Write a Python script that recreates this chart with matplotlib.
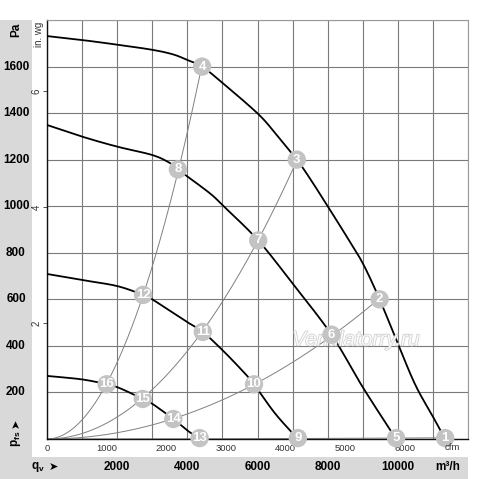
import matplotlib
matplotlib.use("Agg")
import matplotlib.pyplot as plt
import numpy as np
from matplotlib.patches import Rectangle
import matplotlib.patheffects as pe
import matplotlib.transforms as mtransforms

plt.rcParams['font.family'] = ['Liberation Sans', 'DejaVu Sans']
plt.rcParams['mathtext.fontset'] = 'custom'
plt.rcParams['mathtext.rm'] = 'Liberation Sans'
plt.rcParams['mathtext.bf'] = 'Liberation Sans:bold'
plt.rcParams['mathtext.it'] = 'Liberation Sans:italic'

# ---------------- data ----------------
# fan curves: airflow (m3/h) and static pressure (Pa)
fan1_q = [0, 1000, 2000, 3000, 3600, 4000, 4420, 5000, 6000, 6500, 7120, 7500, 8000, 8500, 9000, 9480, 10000, 10500, 11000, 11350]
fan1_p = [1731, 1714, 1694, 1672, 1652, 1628, 1600, 1530, 1399, 1315, 1200, 1118, 1000, 880, 755, 600, 410, 232, 96, 0]
fan2_q = [0, 1000, 2000, 3000, 3500, 3730, 4000, 4647, 5000, 6020, 7000, 8110, 8990, 9950]
fan2_p = [1349, 1299, 1256, 1220, 1186, 1158, 1128, 1055, 1005, 853, 668, 448, 225, 0]
fan3_q = [0, 1000, 2000, 2740, 3000, 3980, 4440, 5000, 5596, 5900, 6500, 7150]
fan3_p = [709, 683, 657, 619, 600, 504, 460, 382, 289, 235, 110, 0]
fan4_q = [0, 1000, 1700, 2081, 2730, 3013, 3600, 3980, 4350]
fan4_p = [271, 256, 235, 218, 172, 150, 86, 39, 0]

# operating points (numbered circles)
pt_num = [1, 2, 3, 4, 5, 6, 7, 8, 9, 10, 11, 12, 13, 14, 15, 16]
pt_q = [11350, 9480, 7120, 4420, 9950, 8110, 6020, 3730, 7150, 5900, 4440, 2740, 4350, 3600, 2730, 1700]
pt_p = [4, 600, 1200, 1600, 4, 448, 853, 1158, 4, 235, 460, 619, 4, 86, 172, 235]

# system curves: which operating points lie on each
sys_lines = [[16, 12, 8, 4], [15, 11, 7, 3], [14, 10, 6, 2], [13, 9, 5, 1]]

pa_ticks = [200, 400, 600, 800, 1000, 1200, 1400, 1600]
m3h_labels = [2000, 4000, 6000, 8000, 10000]
cfm_ticks = [0, 1000, 2000, 3000, 4000, 5000, 6000]
inwg_ticks = [2, 4, 6]


def smooth(xs, ys, n=16):
    """Catmull-Rom rendering through the given points."""
    P = np.column_stack([xs, ys]).astype(float)
    P = np.vstack([2 * P[0] - P[1], P, 2 * P[-1] - P[-2]])
    out = []
    t = np.linspace(0, 1, n, endpoint=False)[:, None]
    for i in range(1, len(P) - 2):
        p0, p1, p2, p3 = P[i - 1], P[i], P[i + 1], P[i + 2]
        seg = 0.5 * ((2 * p1) + (-p0 + p2) * t + (2 * p0 - 5 * p1 + 4 * p2 - p3) * t ** 2
                     + (-p0 + 3 * p1 - 3 * p2 + p3) * t ** 3)
        out.append(seg)
    out.append(P[-2][None, :])
    out = np.vstack(out)
    return out[:, 0], out[:, 1]


# ---------------- figure ----------------
W, H = 500, 479
fig = plt.figure(figsize=(W / 100, H / 100), dpi=100)


def fx(x):
    return x / W


def fy(y):
    return 1 - y / H


gray_band = '#d9d9d9'
fig.add_artist(Rectangle((0, 0), fx(32), 1 - 20 / H, transform=fig.transFigure,
                         facecolor=gray_band, edgecolor='none', zorder=0))
fig.add_artist(Rectangle((0, 0), fx(468), 22 / H, transform=fig.transFigure,
                         facecolor=gray_band, edgecolor='none', zorder=0))

ax = fig.add_axes([fx(47), fy(439), 421 / W, 419 / H])
ax.set_xlim(0, 12000)
ax.set_ylim(0, 1800)
ax.set_xticks(range(0, 12001, 1000))
ax.set_yticks(range(0, 1801, 200))
ax.grid(True, color='#7a7a7a', lw=0.8)
ax.set_axisbelow(True)
ax.tick_params(length=0, labelbottom=False, labelleft=False)
for s in ['top', 'right']:
    ax.spines[s].set_color('#9a9a9a')
    ax.spines[s].set_linewidth(0.8)
for s in ['left', 'bottom']:
    ax.spines[s].set_color('#111111')
    ax.spines[s].set_linewidth(1.0)

# system curves (parabolas through their operating points)
for line in sys_lines:
    qs = np.array([pt_q[pt_num.index(n)] for n in line], float)
    ps = np.array([pt_p[pt_num.index(n)] for n in line], float)
    k = np.sum(ps * qs ** 2) / np.sum(qs ** 4)
    qq = np.linspace(0, qs.max(), 200)
    ax.plot(qq, k * qq ** 2, color='#808080', lw=0.7, zorder=2)

# fan curves
for q, p in [(fan1_q, fan1_p), (fan2_q, fan2_p), (fan3_q, fan3_p), (fan4_q, fan4_p)]:
    sx, sy = smooth(q, p)
    ax.plot(sx, sy, color='black', lw=1.3, zorder=3, solid_capstyle='round',
            solid_joinstyle='round')

# watermark
ax.text(8808, 425, 'Ventilatorry.ru', fontsize=15, style='italic',
        color='white', alpha=0.85, ha='center', va='center', zorder=4,
        path_effects=[pe.withStroke(linewidth=1.0, foreground='#c4c4c4')])

# numbered circles
ax.scatter(pt_q, pt_p, s=175, color='#c3c3c3', edgecolors='none', zorder=5, clip_on=False)
for n, q, p in zip(pt_num, pt_q, pt_p):
    ax.text(q, p, str(n), color='white', fontsize=9.5, fontweight='bold',
            ha='center', va='center', zorder=6, clip_on=False)

# in. wg secondary axis
secy = ax.secondary_yaxis('left', functions=(lambda p: p / 249.09, lambda w: w * 249.09))
secy.set_yticks(inwg_ticks)
secy.set_yticklabels([str(t) for t in inwg_ticks], rotation=90, va='center')
secy.tick_params(length=3, width=0.6, pad=0.8, labelsize=7, color='#333333',
                 labelcolor='#333333')
secy.spines['left'].set_visible(False)
fig.text(fx(39), fy(34), 'in. wg', rotation=90, ha='center', va='center',
         fontsize=7, color='#333333')

# cfm secondary axis
secx = ax.secondary_xaxis('bottom', functions=(lambda q: q / 1.699, lambda c: c * 1.699))
secx.set_xticks(cfm_ticks)
secx.set_xticklabels([str(t) for t in cfm_ticks])
secx.tick_params(length=0, pad=3.5, labelsize=6.8, labelcolor='#333333')
secx.spines['bottom'].set_visible(False)
fig.text(fx(452), fy(448), 'cfm', ha='center', va='center', fontsize=6.8, color='#333333')

# Pa labels in grey band
trans_y = mtransforms.blended_transform_factory(fig.transFigure, ax.transData)
for t in pa_ticks:
    ax.text(fx(16), t, str(t), transform=trans_y, ha='center', va='center',
            fontsize=8.5, fontweight='bold', clip_on=False)
fig.text(fx(16), fy(30), 'Pa', rotation=90, ha='center', va='center',
         fontsize=8.5, fontweight='bold')
fig.text(fx(16), fy(439), r'$\mathbf{p_{fs}}$', rotation=90, ha='center',
         va='center', fontsize=8.5)
fig.text(fx(16), fy(423), '➤', rotation=90, ha='center', va='center',
         fontsize=8, family='DejaVu Sans')

# m3/h labels in bottom grey band
trans_x = mtransforms.blended_transform_factory(ax.transData, fig.transFigure)
for t in m3h_labels:
    ax.text(t, fy(467), str(t), transform=trans_x, ha='center', va='center',
            fontsize=8.5, fontweight='bold', clip_on=False)
fig.text(fx(448), fy(467), 'm³/h', ha='center', va='center', fontsize=8.5,
         fontweight='bold')
fig.text(fx(38), fy(467), r'$\mathbf{q_v}$', ha='center', va='center',
         fontsize=8.5)
fig.text(fx(53), fy(467), '➤', ha='center', va='center', fontsize=8,
         family='DejaVu Sans')

fig.savefig('out.png', dpi=100)
